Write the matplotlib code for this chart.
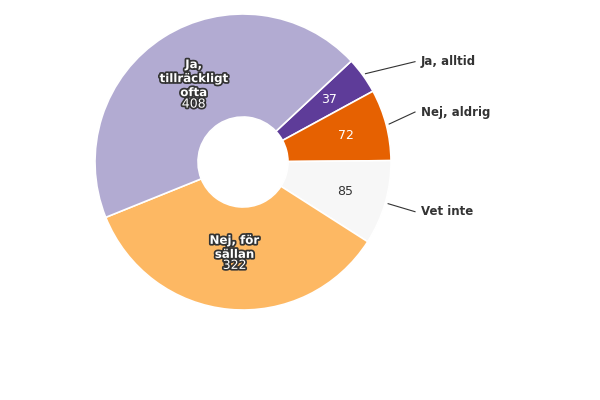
import matplotlib
matplotlib.use("Agg")
import matplotlib.pyplot as plt
import matplotlib.patheffects as pe
import numpy as np

labels = ["Ja, alltid", "Nej, aldrig", "Vet inte", "Nej, för\nsällan", "Ja,\ntillräckligt\nofta"]
values = [37, 72, 85, 322, 408]
colors = ["#5e3c99", "#e66101", "#f7f7f7", "#fdb863", "#b2abd2"]
inside_name = [False, False, False, True, True]

CX, CY, R, RIN = 243, 238, 148, 45

fig = plt.figure(figsize=(6, 4), dpi=100)
ax = fig.add_axes([0, 0, 1, 1])

wedges, _ = ax.pie(values, colors=colors, startangle=43, counterclock=False,
                   center=(CX, CY), radius=R, frame=True,
                   wedgeprops=dict(width=R - RIN, edgecolor="white", linewidth=1.2))
ax.set_xlim(0, 600)
ax.set_ylim(0, 400)
ax.set_aspect("equal")
ax.axis("off")

outline = [pe.withStroke(linewidth=2.5, foreground="#333333")]
total = sum(values)
ang = 43.0
for lab, v, inn, w in zip(labels, values, inside_name, wedges):
    span = v / total * 360
    mid = np.deg2rad(ang - span / 2)
    ang -= span
    rr = 0.72 * R if not inn else 0.62 * R
    x, y = CX + rr * np.cos(mid), CY + rr * np.sin(mid)
    if inn:
        n = lab.count("\n") + 1
        ax.text(x, y + 6, lab, ha="center", va="center", fontsize=8.5, fontweight="bold",
                color="white", path_effects=outline, linespacing=1.1)
        ax.text(x, y + 6 - 7.5 * n - 3, str(v), ha="center", va="center", fontsize=9,
                color="white", path_effects=outline)
    else:
        ax.text(x, y, str(v), ha="center", va="center", fontsize=9,
                color="white" if w.get_facecolor()[0] < 0.95 else "#333333")
        ex, ey = CX + (R + 3) * np.cos(mid), CY + (R + 3) * np.sin(mid)
        ly = ey + 12 if ey > CY + 20 else ey - 5 if ey > CY - 20 else ey - 8
        ax.plot([ex, 415], [ey, ly], color="#333333", lw=0.8)
        ax.text(421, ly, lab, ha="left", va="center", fontsize=8.5, fontweight="bold",
                color="#333333")

fig.savefig("out.png", dpi=100)
